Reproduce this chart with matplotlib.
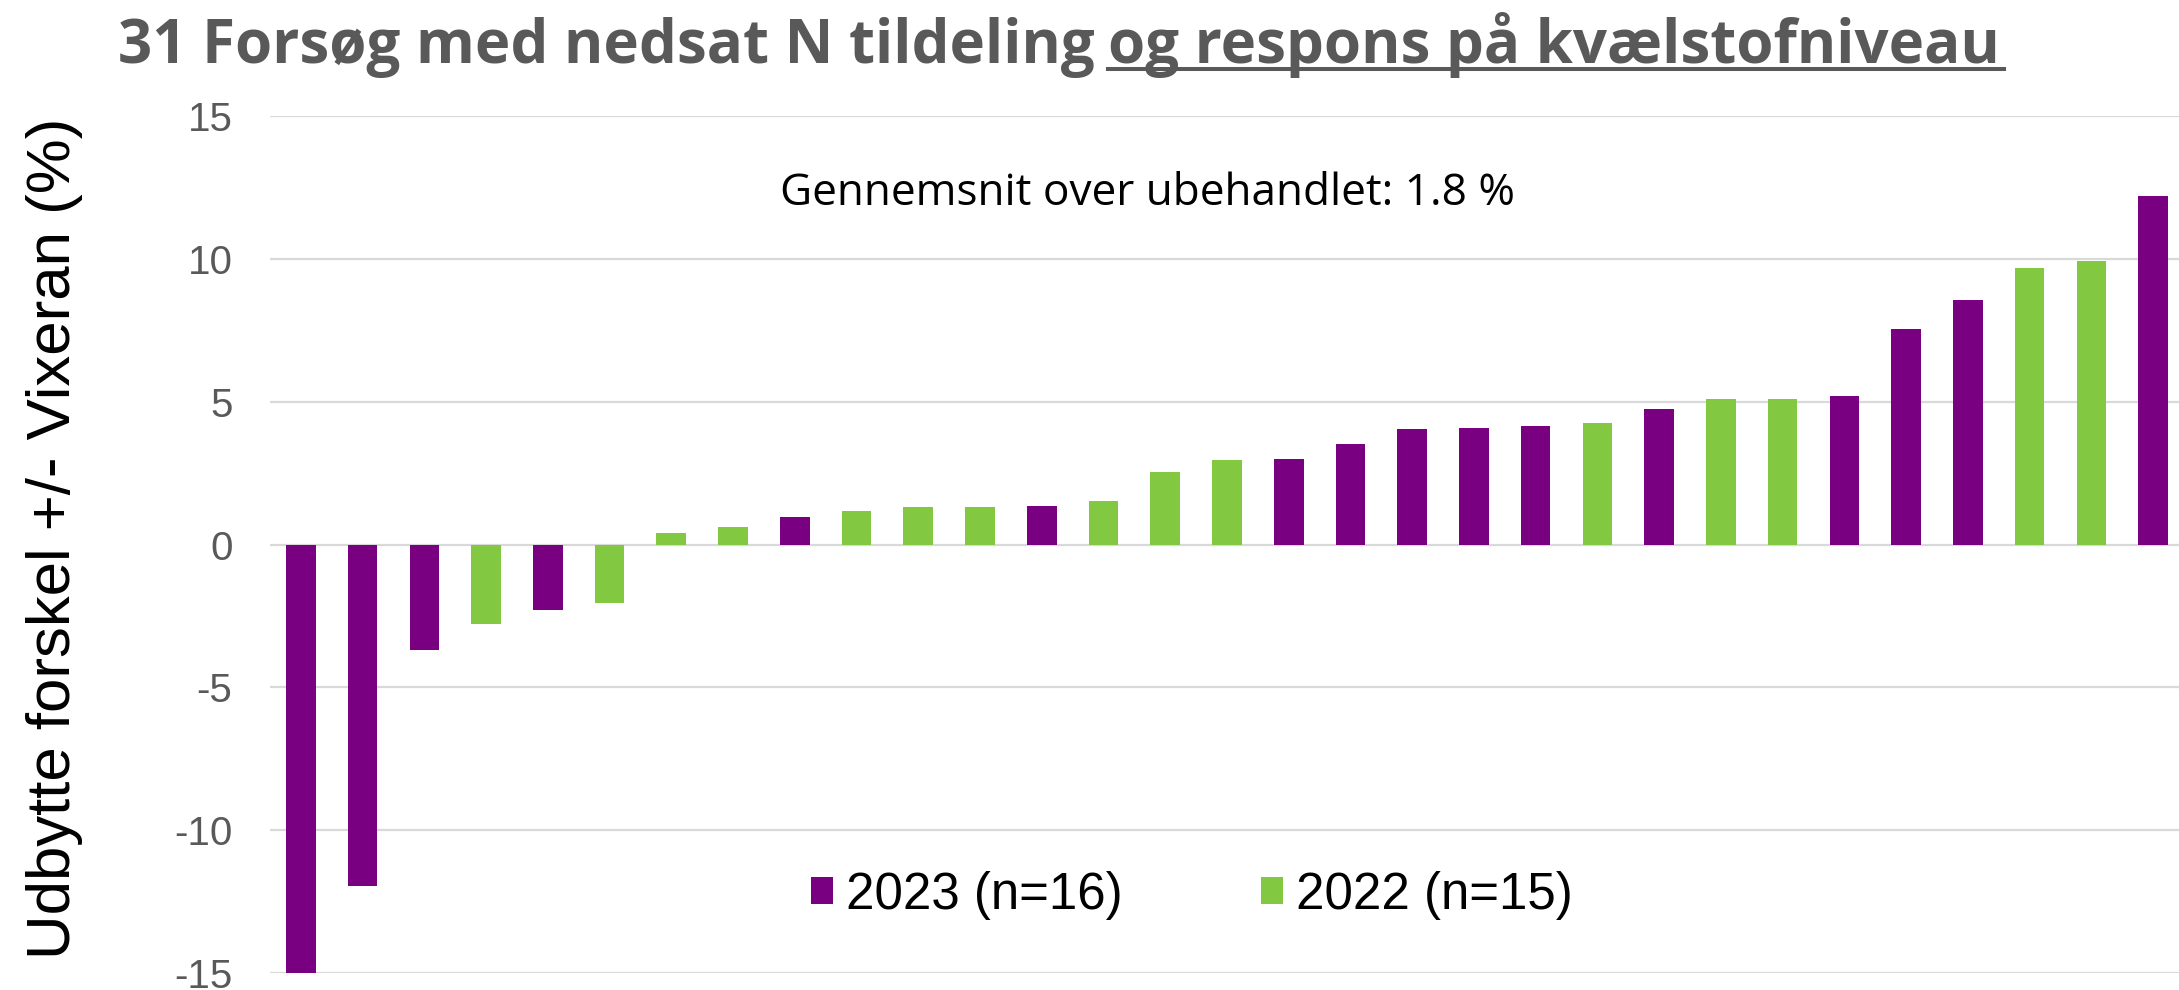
import matplotlib
matplotlib.use("Agg")
import matplotlib.pyplot as plt
from matplotlib.lines import Line2D
import numpy as np

plt.rcParams['axes.unicode_minus'] = False

# ---- data ----
values = [-15.0, -11.95, -3.70, -2.77, -2.28, -2.06, 0.42, 0.63, 0.98, 1.19,
          1.33, 1.33, 1.36, 1.52, 2.54, 2.96, 2.99, 3.52, 4.05, 4.08,
          4.15, 4.27, 4.75, 5.09, 5.10, 5.20, 7.56, 8.57, 9.68, 9.94, 12.19]
years = ['2023', '2023', '2023', '2022', '2023', '2022', '2022', '2022', '2023', '2022',
         '2022', '2022', '2023', '2022', '2022', '2022', '2023', '2023', '2023', '2023',
         '2023', '2022', '2023', '2022', '2022', '2023', '2023', '2023', '2022', '2022', '2023']
series_names = ['2023', '2022']
series_labels = ['2023 (n=16)', '2022 (n=15)']
series_colors = ['#7A0082', '#82C941']
y_ticks = [-15, -10, -5, 0, 5, 10, 15]
title_part1 = '31 Forsøg med nedsat N tildeling'
title_part2 = 'og respons på kvælstofniveau'
annotation = 'Gennemsnit over ubehandlet: 1.8 %'
ylabel = 'Udbytte forskel +/- Vixeran (%)'

W, H = 2179, 990
fig = plt.figure(figsize=(W / 100, H / 100), dpi=100)
ax = fig.add_axes([270 / W, 17 / H, (W - 270) / W, (973 - 116) / H])

x = np.arange(len(values))
vals = np.array(values)
yrs = np.array(years)
handles = []
for name, lab, col in zip(series_names, series_labels, series_colors):
    m = yrs == name
    bc = ax.bar(x[m], vals[m], width=0.48, color=col, label=lab, zorder=3)
    handles.append(bc)

ax.set_xlim(-0.5, len(values) - 1 + 0.42)
ax.set_ylim(-15, 15)
ax.set_yticks(y_ticks)
ax.set_yticklabels([str(t) for t in y_ticks])
ax.set_xticks([])
ax.grid(axis='y', color='#d9d9d9', linewidth=1.6, zorder=0)
ax.set_axisbelow(True)
for s in ax.spines.values():
    s.set_visible(False)
ax.tick_params(axis='y', length=0, pad=27, labelsize=29, labelcolor='#595959')
for lbl in ax.get_yticklabels():
    lbl.set_fontfamily('Liberation Sans')

fig.canvas.draw()
r = fig.canvas.get_renderer()


def fit_width(t, target):
    fs = t.get_fontsize()
    bb = t.get_window_extent(r)
    t.set_fontsize(fs * target / bb.width)


def fit_height(t, target):
    fs = t.get_fontsize()
    bb = t.get_window_extent(r)
    t.set_fontsize(fs * target / bb.height)


# title
tf = fig.text(118 / W, 1 - 63 / H, title_part1 + ' ' + title_part2, fontsize=40,
              fontfamily='Open Sans', fontweight='bold', color='#595959', va='baseline')
fit_width(tf, 2000 - 118)
fs_title = tf.get_fontsize()
tf.remove()
t1 = fig.text(118 / W, 1 - 63 / H, title_part1, fontsize=fs_title, fontfamily='Open Sans',
              fontweight='bold', color='#595959', va='baseline', ha='left')
t2 = fig.text(2000 / W, 1 - 63 / H, title_part2, fontsize=fs_title, fontfamily='Open Sans',
              fontweight='bold', color='#595959', va='baseline', ha='right')
bb2 = t2.get_window_extent(r)
fig.add_artist(Line2D([bb2.x0 / W, 2004 / W], [1 - 69 / H, 1 - 69 / H],
                      color='#595959', linewidth=2.9, transform=fig.transFigure))

# annotation
ta = fig.text(1148 / W, 1 - 194 / H, annotation, fontsize=30, fontfamily='Open Sans',
              color='black', ha='center', va='center')
fit_width(ta, 734)

# y label
ty = fig.text(55 / W, 1 - 538 / H, ylabel, rotation=90, fontsize=40,
              fontfamily='Liberation Sans', color='black', ha='center', va='center')
fit_height(ty, 841)

# legend
leg = ax.legend(handles=handles, labels=series_labels, ncol=2, frameon=False,
                loc='center', bbox_to_anchor=(1192 / W, 1 - 895 / H),
                bbox_transform=fig.transFigure,
                prop={'family': 'Liberation Sans', 'size': 36.7},
                handlelength=0.44, handleheight=0.44, handletextpad=0.26,
                columnspacing=2.7, borderpad=0, borderaxespad=0)

fig.savefig('out.png', dpi=100)
